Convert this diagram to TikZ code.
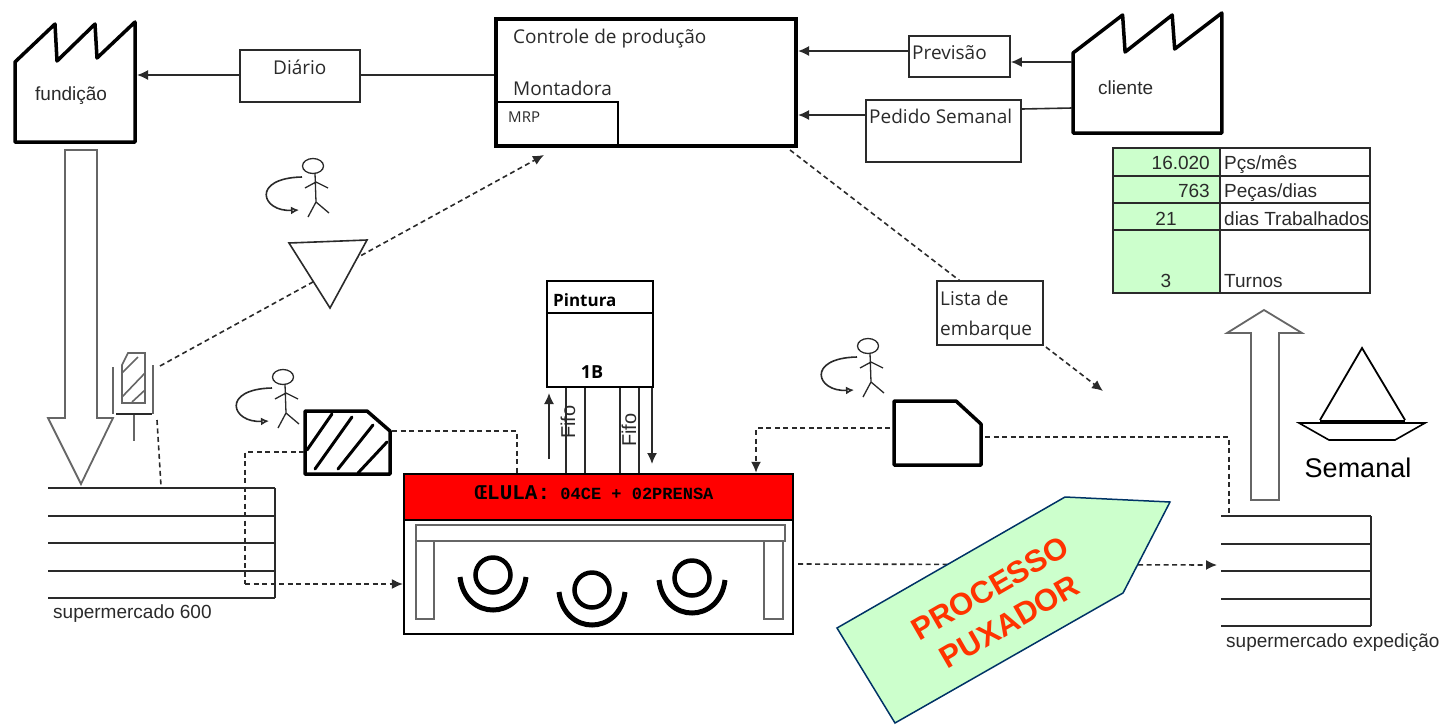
\documentclass[tikz,border=0pt]{standalone}
\usepackage{fontspec}
\usepackage{tikz}
\usetikzlibrary{positioning, arrows.meta, calc}
\setmainfont{Liberation Sans}
\newfontfamily\manuscrita{Open Sans}
\newfontfamily\maquina{Liberation Mono}
\definecolor{linha}{HTML}{2A2A2A}
\definecolor{cinza}{HTML}{666666}
\definecolor{verde}{HTML}{CCFFCC}
\definecolor{contorno}{HTML}{003366}
\definecolor{laranja}{HTML}{FF3300}

\begin{document}
\begin{tikzpicture}[x=1pt, y=-1pt,
      every node/.style={inner sep=0pt, text=linha},
      caixa/.style={draw=linha, fill=white, line width=1.6pt},
      forte/.style={draw=black, line width=3.5pt, line join=round},
      fluxo/.style={draw=linha, line width=1.6pt, -{Latex[length=11pt,width=10pt]}},
      kanb/.style={draw=linha, line width=1.6pt, dash pattern=on 5pt off 3.5pt,
        -{Latex[length=11pt,width=10pt]}},
      aviso/.style={draw=linha, line width=1.6pt, dash pattern=on 5pt off 3.5pt},
      vazada/.style={draw=cinza, fill=white, line width=1.8pt, line join=miter},
      txt/.style={font=\manuscrita\fontsize{19}{20}\selectfont, anchor=west},
      rot/.style={font=\fontsize{19}{20}\selectfont, anchor=west},
      tab/.style={font=\fontsize{19}{20}\selectfont},
      pics/fabrica/.style={code={
        \draw[forte] (0,40) -- (40,2) -- (42,39) -- (80,2) -- (82,36) -- (120,0)
          -- (120,120) -- (0,120) -- cycle;
      }},
      pics/operador/.style={code={
        \draw[linha, line width=1.3pt] (0,0) ellipse (10.5 and 7.5);
        \draw[linha, line width=1.3pt] (2,7) -- (3,36) -- (-5,51) (3,36) -- (16,47)
          (-8,22) -- (3,16) -- (15,22);
        \draw[linha, line width=1.6pt, -{Latex[open,length=8pt,width=8pt]}]
          (-11,11) .. controls (-62,12) and (-52,46) .. (-14,44);
      }},
      pics/estacao/.style={code={
        \draw[black, line width=4.5pt] (0,0) circle (17.5);
        \draw[black, line width=5pt] (-33,2) .. controls (-28,46) and (28,46) .. (33,2);
      }},
      pics/estoque/.style={code={
        \foreach \y in {0,28,55,83,110}
          \draw[linha, line width=1.6pt] (0,\y) -- (#1,\y);
        \draw[linha, line width=1.6pt] (#1,0) -- (#1,110);
      }}]

    \useasboundingbox (0,0) rectangle (1443,724);

    % fabricas
    \pic at (15,22) {fabrica};
    \pic[xscale=1.24] at (1073,13) {fabrica};
    \node[rot] (fundicao) at (35,96) {fundição};
    \node[rot] (cliente) at (1098,88) {cliente};
    \coordinate (fundleste) at (137,75);
    \coordinate (cliprev) at (1072,62);
    \coordinate (cliped) at (1072,108);

    % caixas de informacao
    \node[draw=black, fill=white, line width=4pt, minimum width=300pt, minimum height=127pt]
      (controle) at (646,82.5) {};
    \node[draw=black, line width=1.6pt, minimum width=122pt, minimum height=44pt]
      (mrp) at (557,124) {};
    \node[caixa, minimum width=120pt, minimum height=52pt] (diario) at (300,76) {};
    \node[caixa, minimum width=101pt, minimum height=41pt] (previsao) at (959.5,56.5) {};
    \node[caixa, minimum width=155pt, minimum height=62pt] (pedido) at (943.5,131) {};
    \node[txt] (controletxt) at (513,39) {Controle de produção};
    \node[txt] (montadora) at (513,88) {Montadora};
    \node[txt, font=\manuscrita\fontsize{15}{16}\selectfont] (mrptxt) at (508,117) {MRP};
    \node[txt] (diariotxt) at (273,67) {Diário};
    \node[txt] (previsaotxt) at (912,53) {Previsão};
    \node[txt] (pedidotxt) at (869,116) {Pedido Semanal};

    \draw[linha, line width=1.6pt] (controle.west |- 0,75) -- (diario.east |- 0,75);
    \draw[fluxo] (diario.west |- 0,75) -- (fundleste);
    \draw[fluxo] (previsao.west |- 0,51) -- (controle.east |- 0,51);
    \draw[fluxo] (pedido.west |- 0,115) -- (controle.east |- 0,115);
    \draw[fluxo] (cliprev) -- (previsao.east |- cliprev);
    \draw[linha, line width=1.6pt] (cliped) -- (pedido.east |- 0,109);

    % tabela
    \fill[verde] (1113,148) rectangle (1220,293);
    \draw[linha, line width=1.6pt] (1113,148) rectangle (1370,293);
    \draw[linha, line width=1.6pt] (1220,148) -- (1220,293);
    \foreach \y in {176,203,230}
      \draw[linha, line width=1.6pt] (1113,\y) -- (1370,\y);
    \node[tab, anchor=base east] (pcsval) at (1210,169) {16.020};
    \node[tab, anchor=base east] (pecasval) at (1210,197) {763};
    \node[tab, anchor=base] (diasval) at (1166,225) {21};
    \node[tab, anchor=base] (turnosval) at (1166,287) {3};
    \node[tab, anchor=base west] (pcs) at (1224,169) {Pçs/mês};
    \node[tab, anchor=base west] (pecas) at (1224,197) {Peças/dias};
    \node[tab, anchor=base west] (dias) at (1224,225) {dias Trabalhados};
    \node[tab, anchor=base west] (turnos) at (1224,287) {Turnos};

    % lado esquerdo
    \draw[vazada] (65,150) -- (97,150) -- (97,418) -- (113,418) -- (81,484)
      -- (48,418) -- (65,418) -- cycle;
    \pic at (48,488) {estoque=227};
    \node[rot] (super) at (53,614) {supermercado 600};

    \coordinate (postotop) at (160,366);
    \coordinate (postobase) at (157,420);
    \coordinate (superponto) at (161,486);
    \coordinate (ctrlponto) at (544,155);
    \draw[kanb] (postotop) -- (ctrlponto);
    \draw[aviso] (postobase) -- (superponto);
    \draw[cinza, line width=1.6pt] (122,403) -- (122,365) -- (128,353) -- (145,353) -- (145,403) -- cycle
      (122,373) -- (138,357) (122,397) -- (145,373) (132,402) -- (145,390);
    \draw[cinza, line width=1.6pt] (113,367) -- (113,414) (153,365) -- (153,414) (134,414) -- (134,441);
    \draw[linha, line width=1.6pt] (116,414) -- (152,414);
    \draw[linha, fill=white, line width=1.6pt] (289,243) -- (367,240) -- (330,308) -- cycle;
    \pic at (313,166) {operador};
    \pic at (283,377) {operador};

    % kanban hachurado
    \coordinate (hachleste) at (392,431);
    \coordinate (hachoeste) at (304,452);
    \coordinate (hachbaixo) at (245,584);
    \draw[forte] (305,411) -- (367,411) -- (390,431) -- (390,474) -- (305,474) -- cycle;
    \draw[black, line width=3pt, line cap=round] (307,450) -- (332,414) (315,469) -- (352,417)
      (338,469) -- (373,425) (358,473) -- (387,442);

    % celula
    \node[draw=black, line width=2.2pt, minimum width=389pt, minimum height=160pt]
      (posto) at (598.5,554) {};
    \node[draw=black, fill=red, line width=2.5pt, minimum width=389pt, minimum height=46pt]
      (celula) at (598.5,497) {};
    \node[font=\maquina\bfseries\fontsize{17}{18}\selectfont, text=black] (celulatxt) at (594,493)
      {{\fontsize{21}{21}\selectfont ŒLULA:} 04CE + 02PRENSA};
    \draw[cinza, line width=1.8pt] (416,525) rectangle (785,541) (416,541) rectangle (434,619)
      (764,541) rectangle (783,619);
    \pic at (493,575) {estacao};
    \pic at (592,590) {estacao};
    \pic at (692,578) {estacao};

    \draw[aviso] (hachleste) -- (517,431) -- (517,0 |- celula.north);
    \draw[aviso] (hachoeste) -- (245,452) -- (hachbaixo);
    \draw[kanb] (hachbaixo) -- (posto.west |- hachbaixo);

    % pintura
    \node[draw=black, line width=2.5pt, minimum width=106pt, minimum height=106pt]
      (pintura) at (600,334) {};
    \draw[black, line width=2.5pt] (pintura.west |- 0,313) -- (pintura.east |- 0,313);
    \node[txt, font=\manuscrita\bfseries\fontsize{17}{18}\selectfont, text=black] (pinturatxt) at (553,300) {Pintura};
    \node[font=\manuscrita\bfseries\fontsize{18}{18}\selectfont, text=black] (umb) at (592,372) {1B};
    \foreach \x in {566,585,620,639}
      \draw[linha, line width=1.5pt] (\x,0 |- pintura.south) -- (\x,0 |- celula.north);
    \node[rot, anchor=center, rotate=90, font=\fontsize{20}{20}\selectfont] (fifoa) at (568,422) {Fifo};
    \node[rot, anchor=center, rotate=90, font=\fontsize{20}{20}\selectfont] (fifob) at (629,430) {Fifo};
    \coordinate (sobe) at (549,459);
    \coordinate (desce) at (652,464);
    \draw[fluxo] (sobe) -- (549,393);
    \draw[fluxo] (desce |- pintura.south) -- (desce);

    % lado direito
    \pic at (868,346) {operador};
    \coordinate (embarque) at (1103,391);
    \draw[kanb] (controle.south east) ++(-8,2) coordinate (ctrlsai) -- (embarque);
    \node[caixa, minimum width=106pt, minimum height=64pt] (lista) at (990,313) {};
    \node[txt] (listatxt) at (940,298) {Lista de};
    \node[txt] (embtxt) at (940,331) {embarque};

    \coordinate (brancooeste) at (890,428);
    \coordinate (brancoleste) at (985,437);
    \draw[forte] (894,401) -- (956,401) -- (981,424) -- (981,465) -- (894,465) -- cycle;
    \draw[kanb] (brancooeste) -- (756,428) -- (756,0 |- celula.north);

    \draw[vazada] (1251,500) -- (1279,500) -- (1279,333) -- (1302,333) -- (1264,310)
      -- (1227,333) -- (1251,333) -- cycle;
    \draw[aviso] (brancoleste) -- (1229,437) -- (1229,517);
    \pic at (1221,516) {estoque=150};
    \node[rot] (expedicao) at (1226,643) {supermercado expedição};

    \draw[black, line width=1.8pt] (1320,420) -- (1362,348) -- (1405,420);
    \draw[black, line width=1.6pt] (1299,423) -- (1425,423) -- (1395,440) -- (1329,440) -- cycle;
    \draw[black, line width=3pt] (1320,421) -- (1405,421);
    \node[font=\fontsize{27}{28}\selectfont, text=black] (semanal) at (1358,468) {Semanal};

    % processo puxador
    \coordinate (celsai) at (798,564);
    \draw[kanb] (celsai) -- (1217,565);
    \draw[draw=contorno, fill=verde, line width=1.5pt] (1065,497) -- (1170,502) -- (1123,593)
      -- (895,723) -- (837,628) -- cycle;
    \node[rotate=30, align=center, text=laranja,
      font=\bfseries\fontsize{31}{39}\selectfont] (puxador) at (1000,605) {PROCESSO\\PUXADOR};
  \end{tikzpicture}
\end{document}
